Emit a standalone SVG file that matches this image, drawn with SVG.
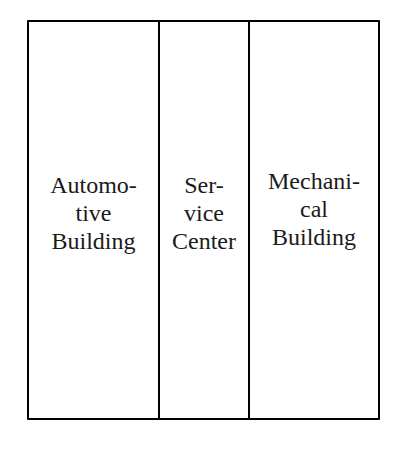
<svg xmlns="http://www.w3.org/2000/svg" width="400" height="449" viewBox="0 0 400 449">
<style>
.box{fill:#fff;stroke:#000;stroke-width:2;stroke-linejoin:round}
.lbl{font-family:"Liberation Serif","Times New Roman",serif;font-size:24px;fill:#1a1a1a;text-anchor:middle}
</style>
<rect width="400" height="449" fill="#fff"/>
<g id="automotive">
<rect class="box" x="28" y="21" width="131" height="398"/>
<text class="lbl" x="93.5" y="193">Automo-</text>
<text class="lbl" x="93.5" y="221">tive</text>
<text class="lbl" x="93.5" y="249">Building</text>
</g>
<g id="service">
<rect class="box" x="159" y="21" width="90" height="398"/>
<text class="lbl" x="204" y="193">Ser-</text>
<text class="lbl" x="204" y="221">vice</text>
<text class="lbl" x="204" y="249">Center</text>
</g>
<g id="mechanical">
<rect class="box" x="249" y="21" width="130" height="398"/>
<text class="lbl" x="314" y="189">Mechani-</text>
<text class="lbl" x="314" y="217">cal</text>
<text class="lbl" x="314" y="245">Building</text>
</g>
<g id="connectors"></g>
</svg>
